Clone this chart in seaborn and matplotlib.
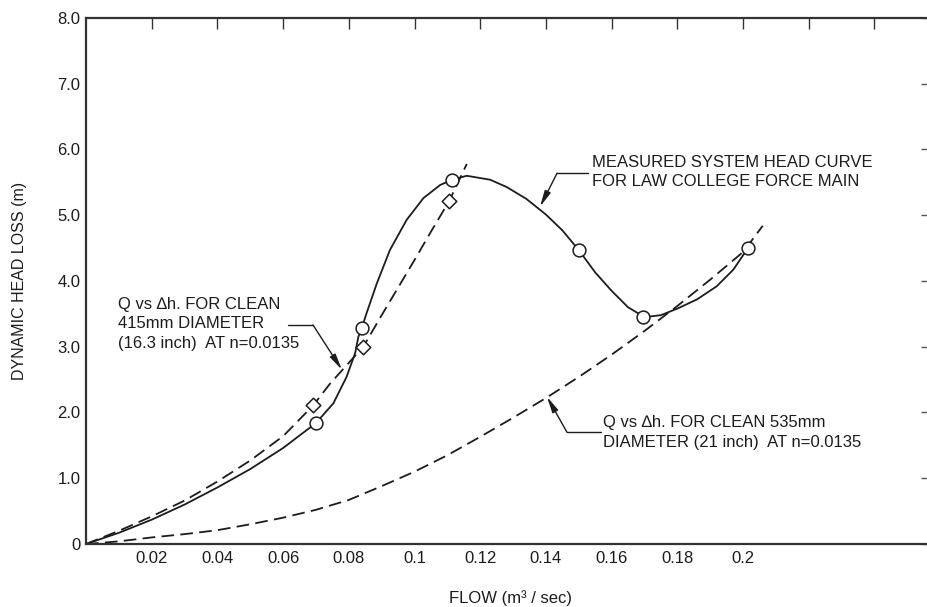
import seaborn as sns
import matplotlib.pyplot as plt

# measured system head curve (solid line)
measured_q = [0, 0.01, 0.02, 0.03, 0.04, 0.05, 0.06, 0.07, 0.0753, 0.0793, 0.0819, 0.0829,
              0.0839, 0.0854, 0.0885, 0.0925, 0.0976, 0.1027, 0.1078, 0.1115, 0.1159, 0.123,
              0.128, 0.134, 0.140, 0.145, 0.150, 0.155, 0.160, 0.165, 0.170, 0.175, 0.180,
              0.186, 0.192, 0.197, 0.2015]
measured_h = [0, 0.17, 0.37, 0.6, 0.86, 1.14, 1.46, 1.84, 2.14, 2.54, 2.90, 3.15,
              3.28, 3.51, 3.96, 4.47, 4.93, 5.26, 5.46, 5.54, 5.60, 5.54,
              5.43, 5.25, 5.01, 4.77, 4.47, 4.13, 3.85, 3.6, 3.45, 3.48, 3.58,
              3.72, 3.92, 4.17, 4.5]

# measured points (circles)
points_q = [0.070, 0.0839, 0.1115, 0.150, 0.1696, 0.2015]
points_h = [1.84, 3.28, 5.54, 4.47, 3.45, 4.50]

# clean 415mm pipe (dashed) with its diamonds
pipe415_q = [0, 0.01, 0.02, 0.03, 0.04, 0.05, 0.06, 0.0692, 0.0743, 0.0799, 0.0844,
             0.09, 0.095, 0.1, 0.105, 0.1106, 0.1159]
pipe415_h = [0, 0.2, 0.42, 0.66, 0.95, 1.27, 1.64, 2.11, 2.44, 2.75, 3.0,
             3.48, 3.9, 4.32, 4.75, 5.22, 5.78]
diam_q = [0.0692, 0.0844, 0.1106]
diam_h = [2.11, 3.0, 5.22]

# clean 535mm pipe (dashed)
pipe535_q = [0, 0.01, 0.02, 0.03, 0.04, 0.05, 0.06, 0.07, 0.08, 0.09, 0.1, 0.11,
             0.12, 0.13, 0.14, 0.15, 0.16, 0.17, 0.18, 0.19, 0.2, 0.206]
pipe535_h = [0, 0.04, 0.1, 0.15, 0.21, 0.3, 0.4, 0.52, 0.67, 0.88, 1.1, 1.35,
             1.63, 1.92, 2.22, 2.54, 2.88, 3.24, 3.62, 4.02, 4.44, 4.84]

x_ticks = [0.02, 0.04, 0.06, 0.08, 0.1, 0.12, 0.14, 0.16, 0.18, 0.2, 0.22, 0.24]
x_labels = ['0.02', '0.04', '0.06', '0.08', '0.1', '0.12', '0.14', '0.16', '0.18', '0.2', '', '']
y_ticks = [0, 1, 2, 3, 4, 5, 6, 7, 8]
y_labels = ['0', '1.0', '2.0', '3.0', '4.0', '5.0', '6.0', '7.0', '8.0']

sns.set_style('white')
plt.rcParams['font.family'] = ['Liberation Sans', 'DejaVu Sans']
plt.rcParams['font.size'] = 12

ink = '#1c1c1c'
dash = (0, (7, 3.5))

fig = plt.figure(figsize=(9.28, 6.07), dpi=100)
ax = fig.add_axes([0.0927, 0.1038, 0.9073, 0.8666])

sns.lineplot(x=measured_q, y=measured_h, ax=ax, color=ink, lw=1.3, sort=False, estimator=None)
sns.lineplot(x=pipe415_q, y=pipe415_h, ax=ax, color=ink, lw=1.3, sort=False, estimator=None,
             linestyle=dash)
sns.lineplot(x=pipe535_q, y=pipe535_h, ax=ax, color=ink, lw=1.3, sort=False, estimator=None,
             linestyle=dash)
sns.scatterplot(x=points_q, y=points_h, ax=ax, marker='o', s=85, facecolor='white',
                edgecolor=ink, linewidth=1.1, zorder=5)
sns.scatterplot(x=diam_q, y=diam_h, ax=ax, marker='D', s=55, facecolor='white',
                edgecolor=ink, linewidth=1.1, zorder=5)

ax.set_xlim(0, 0.2563)
ax.set_ylim(0, 8)
ax.set_xticks(x_ticks)
ax.set_xticklabels(x_labels)
ax.set_yticks(y_ticks)
ax.set_yticklabels(y_labels)
ax.tick_params(axis='x', direction='in', length=8, width=1.0, color='#333333',
               top=True, pad=5, labelsize=12, labelcolor=ink)
ax.tick_params(axis='y', direction='in', length=9, width=1.0, color='#555555',
               right=True, pad=4, labelsize=12, labelcolor=ink)
for t in ax.yaxis.get_major_ticks():
    t.tick2line.set_color('#d5d5d5')
    t.tick2line.set_markersize(5)

for side in ['left', 'bottom', 'top']:
    ax.spines[side].set_linewidth(1.6)
    ax.spines[side].set_color('#333333')
ax.spines['right'].set_visible(False)

ax.set_xlabel('FLOW (m³ / sec)', fontsize=12, color=ink)
ax.set_ylabel('DYNAMIC HEAD LOSS (m)', fontsize=11.5, color=ink)
ax.xaxis.set_label_coords(0.5036, -0.088)
ax.yaxis.set_label_coords(-0.0705, 0.5)

arrow = dict(arrowstyle='-|>,head_length=0.8,head_width=0.16', color=ink, lw=1.0,
             shrinkA=0, shrinkB=0)

# measured curve note
ax.text(0.1540, 5.66, 'MEASURED SYSTEM HEAD CURVE\nFOR LAW COLLEGE FORCE MAIN',
        ha='left', va='center', fontsize=12, color=ink, linespacing=1.35)
ax.plot([0.1528, 0.1434], [5.64, 5.64], color=ink, lw=1.0)
ax.annotate('', xy=(0.1382, 5.13), xytext=(0.1434, 5.64), arrowprops=arrow)

# 415mm note
ax.text(0.0097, 3.346, 'Q vs \u2206h. FOR CLEAN\n415mm DIAMETER\n(16.3 inch)  AT n=0.0135',
        ha='left', va='center', fontsize=12, color=ink, linespacing=1.4)
ax.plot([0.0615, 0.0691], [3.33, 3.33], color=ink, lw=1.0)
ax.annotate('', xy=(0.0779, 2.65), xytext=(0.0691, 3.33), arrowprops=arrow)

# 535mm note
ax.text(0.1574, 1.696, 'Q vs \u2206h. FOR CLEAN 535mm\nDIAMETER (21 inch)  AT n=0.0135',
        ha='left', va='center', fontsize=12, color=ink, linespacing=1.35)
ax.plot([0.1568, 0.1464], [1.70, 1.70], color=ink, lw=1.0)
ax.annotate('', xy=(0.1403, 2.24), xytext=(0.1464, 1.70), arrowprops=arrow)

fig.savefig('out.png', dpi=100)
